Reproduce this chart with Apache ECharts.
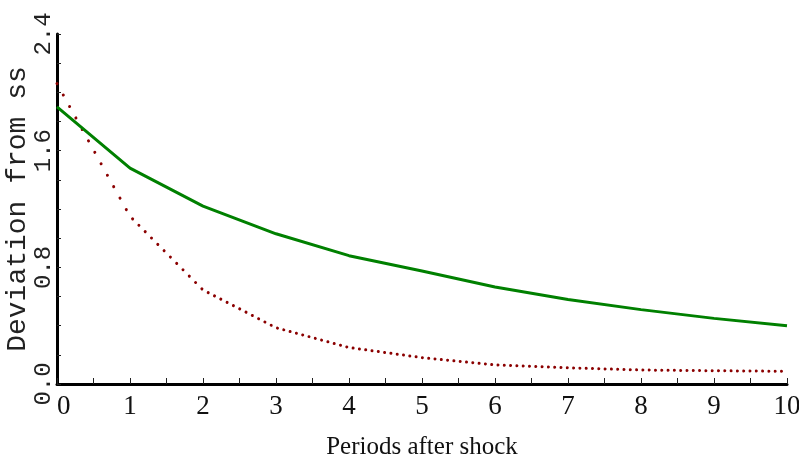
<!DOCTYPE html>
<html>
<head>
<meta charset="utf-8">
<script src="https://cdn.jsdelivr.net/npm/echarts@6/dist/echarts.min.js"></script>
<style>
  html, body { margin: 0; padding: 0; background: #fff; }
  #chart { width: 799px; height: 467px; }
</style>
</head>
<body>
<div id="chart"></div>
<script>
// Periods after the shock (x values)
const periods = [0, 1, 2, 3, 4, 5, 6, 7, 8, 9, 10];
// Solid green response path
const solidPath = [1.90, 1.48, 1.22, 1.03, 0.88, 0.775, 0.665, 0.58, 0.51, 0.45, 0.40];
// Dotted dark-red response path
const dottedPath = [2.06, 1.15, 0.645, 0.386, 0.25, 0.181, 0.131, 0.111, 0.096, 0.091, 0.087];
// Axis ranges and tick steps
const xRange = [0, 10];
const yRange = [0, 2.4];
const yStep = 0.8;

const pairs = (ys) => periods.map((p, i) => [p, ys[i]]);

// Dots of the dotted path sit at an even horizontal pitch (px), so each
// segment gets its own dash period stretched by its slope.
const DOT_PITCH = 6.3;
function dottedSegment(params, api) {
  const i = params.dataIndex;
  if (i >= periods.length - 1) return null;
  const p0 = api.coord([periods[0], dottedPath[0]]);
  const a = api.coord([periods[i], dottedPath[i]]);
  const b = api.coord([periods[i + 1], dottedPath[i + 1]]);
  const dx = b[0] - a[0];
  const len = Math.hypot(b[0] - a[0], b[1] - a[1]);
  const stretch = len / dx;
  const period = DOT_PITCH * stretch;
  // first dot inside this segment, measured horizontally from the path start
  const k = Math.ceil((a[0] - p0[0]) / DOT_PITCH - 1e-6);
  const firstX = p0[0] + k * DOT_PITCH;
  const d = (firstX - a[0]) * stretch;
  const offset = ((period - d) % period + period) % period;
  return {
    type: 'polyline',
    shape: { points: [a, b] },
    style: {
      stroke: '#8b0000',
      lineWidth: 3,
      fill: null,
      lineCap: 'round',
      lineDash: [0.01, period - 0.01],
      lineDashOffset: offset
    }
  };
}

const chart = echarts.init(document.getElementById('chart'), null, { renderer: 'canvas' });
chart.setOption({
  animation: false,
  backgroundColor: '#ffffff',
  grid: { left: 57, right: 12, top: 34, bottom: 83, containLabel: false, outerBoundsMode: 'none' },
  xAxis: {
    type: 'value',
    min: xRange[0], max: xRange[1], interval: 1,
    name: 'Periods after shock',
    nameLocation: 'middle',
    nameGap: 51,
    nameMoveOverlap: false,
    nameTextStyle: { fontFamily: 'Liberation Serif', fontSize: 25, color: '#111' },
    axisLine: { show: true, lineStyle: { color: '#000', width: 3 } },
    axisTick: { show: true, inside: true, length: 6, lineStyle: { color: '#222', width: 1 } },
    minorTick: { show: true, splitNumber: 2, length: 6, lineStyle: { color: '#222', width: 1 } },
    splitLine: { show: false },
    axisLabel: {
      margin: 9,
      fontFamily: 'Liberation Serif', fontSize: 27, color: '#111',
      alignMinLabel: 'left'
    }
  },
  yAxis: {
    type: 'value',
    min: yRange[0], max: yRange[1], interval: yStep,
    name: 'Deviation from ss',
    nameLocation: 'middle',
    nameRotate: 90,
    nameGap: 25,
    nameMoveOverlap: false,
    nameTextStyle: { fontFamily: 'Liberation Mono', fontSize: 28, color: '#222' },
    axisLine: { show: true, lineStyle: { color: '#000', width: 3 } },
    axisTick: { show: true, inside: true, length: 4, lineStyle: { color: '#222', width: 1 } },
    minorTick: { show: true, splitNumber: 4, length: 4, lineStyle: { color: '#222', width: 1 } },
    splitLine: { show: false },
    axisLabel: {
      rotate: 90,
      margin: 1,
      fontFamily: 'Liberation Mono', fontSize: 24, color: '#222',
      formatter: (v) => v.toFixed(1)
    }
  },
  series: [
    {
      name: 'Solid path',
      type: 'line',
      data: pairs(solidPath),
      showSymbol: false,
      lineStyle: { color: '#008000', width: 3 },
      z: 3
    },
    {
      name: 'Dotted path',
      type: 'custom',
      data: pairs(dottedPath),
      renderItem: dottedSegment,
      encode: { x: 0, y: 1 },
      z: 2
    }
  ]
});
</script>
</body>
</html>
